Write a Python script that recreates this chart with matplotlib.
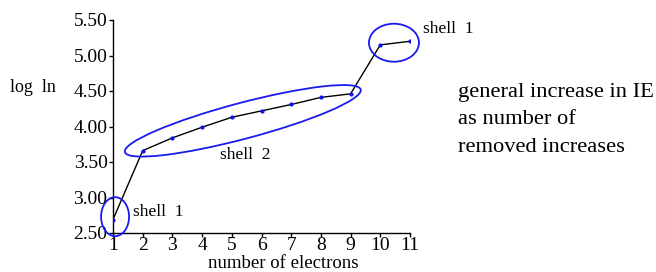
import matplotlib
matplotlib.use("Agg")
import matplotlib.pyplot as plt
from matplotlib.patches import Ellipse
from matplotlib.transforms import Affine2D, ScaledTranslation

electrons = [1, 2, 3, 4, 5, 6, 7, 8, 9, 10, 11]
log_ie = [2.69, 3.66, 3.84, 3.99, 4.13, 4.22, 4.31, 4.41, 4.46, 5.15, 5.20]
x_ticks = [1, 2, 3, 4, 5, 6, 7, 8, 9, 10, 11]
y_ticks = [2.50, 3.00, 3.50, 4.00, 4.50, 5.00, 5.50]
note_lines = ['general increase in IE', 'as number of', 'removed increases']

plt.rcParams['font.family'] = ['Liberation Serif', 'DejaVu Serif']
fig = plt.figure(figsize=(6.56, 2.72), dpi=100)
ax = fig.add_axes([113/656, 39/272, (410-113)/656, (233-20)/272])

ax.plot(electrons, log_ie, color='black', lw=1.0, zorder=3)
ax.plot(electrons, log_ie, 'o', color='#1010ee', ms=2.0, zorder=4)

ax.set_xlim(1, 11)
ax.set_ylim(2.5, 5.5)
ax.set_xticks(x_ticks)
ax.set_xticklabels([str(v) for v in x_ticks])
ax.set_yticks(y_ticks)
ax.set_yticklabels([f"{v:.2f}" for v in y_ticks])
for s in ['top', 'right']:
    ax.spines[s].set_visible(False)
for s in ['left', 'bottom']:
    ax.spines[s].set_linewidth(1.0)
ax.tick_params(axis='both', direction='out', length=3, width=1.0, labelsize=14, pad=1)
ax.tick_params(axis='x', pad=0)

# ellipses drawn in pixel units centred at data points
def add_ellipse(cx, cy, w, h, angle):
    tr = Affine2D() + ScaledTranslation(cx, cy, ax.transData)
    e = Ellipse((0, 0), w, h, angle=angle, fill=False, edgecolor='#1a1aee',
                lw=1.3, transform=tr, clip_on=False, zorder=5)
    ax.add_patch(e)

add_ellipse(1.07, 2.73, 28, 39, 0)
add_ellipse(5.37, 4.08, 244, 36, 14.85)
add_ellipse(10.46, 5.18, 50, 38, 0)

ax.text(1.67, 2.739, 'shell  1', fontsize=12.5, va='baseline', ha='left', clip_on=False)
ax.text(4.60, 3.538, 'shell  2', fontsize=12.5, va='baseline', ha='left', clip_on=False)
ax.text(11.44, 5.313, 'shell  1', fontsize=12.5, va='baseline', ha='left', clip_on=False)

fig.text(10/656, 1 - 91.7/272, 'log  ln', fontsize=13, va='baseline', ha='left')
fig.text(283/656, 1 - 264/272, 'number of electrons', fontsize=13.5, va='center', ha='center')
for i, line in enumerate(note_lines):
    fig.text(458/656, 1 - (96.7 + 27.5 * i)/272, line, fontsize=16.2,
             va='baseline', ha='left')

fig.savefig('out.png', dpi=100)
